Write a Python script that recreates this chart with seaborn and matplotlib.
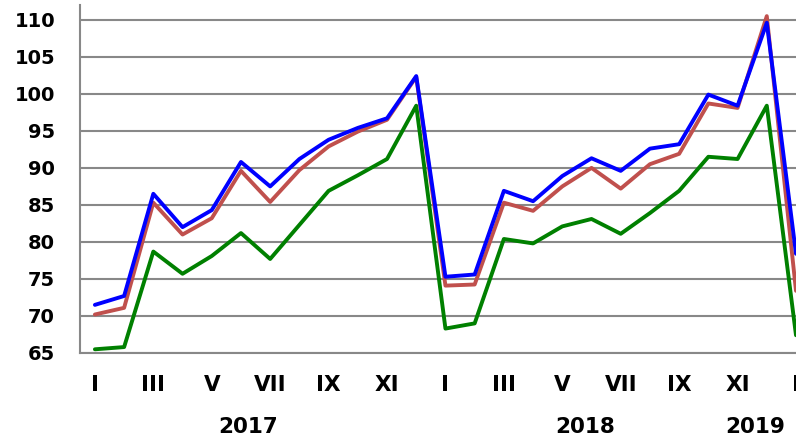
import pandas as pd
import matplotlib.pyplot as plt
import seaborn as sns

# --- DATA (monthly index, Jan 2017 .. Jan 2019) ---
months = ['I', 'II', 'III', 'IV', 'V', 'VI', 'VII', 'VIII', 'IX', 'X', 'XI', 'XII'] * 2 + ['I']
years = ['2017', '2018', '2019']
year_pos = [5.24, 16.8, 22.6]

blue_vals = [71.5, 72.7, 86.5, 82.0, 84.3, 90.8, 87.5, 91.2, 93.8, 95.4, 96.7, 102.4,
             75.3, 75.6, 86.9, 85.5, 88.9, 91.3, 89.6, 92.6, 93.2, 99.9, 98.4, 109.6,
             78.4]
red_vals = [70.2, 71.1, 85.3, 81.0, 83.2, 89.6, 85.4, 89.7, 92.9, 94.9, 96.5, 102.3,
            74.1, 74.25, 85.3, 84.2, 87.5, 90.0, 87.2, 90.5, 91.9, 98.7, 98.1, 110.5,
            73.4]
green_vals = [65.5, 65.8, 78.7, 75.7, 78.1, 81.2, 77.7, 82.3, 86.9, 89.0, 91.2, 98.4,
              68.3, 69.0, 80.4, 79.8, 82.1, 83.1, 81.1, 83.9, 86.9, 91.5, 91.2, 98.4,
              67.4]

idx = list(range(len(months)))
df = pd.DataFrame({'idx': idx, 'blue': blue_vals, 'red': red_vals, 'green': green_vals})

sns.set_style('white')
plt.rcParams['font.family'] = ['DejaVu Sans']
plt.rcParams['text.color'] = 'black'

fig = plt.figure(figsize=(7.96, 4.38), dpi=100)
ax = fig.add_axes([80 / 796, 85 / 438, 716 / 796, 348 / 438])

# draw order: green, red, blue on top
sns.lineplot(data=df, x='idx', y='green', color='#008000', linewidth=2.8, ax=ax)
sns.lineplot(data=df, x='idx', y='red', color='#C0504D', linewidth=2.8, ax=ax)
sns.lineplot(data=df, x='idx', y='blue', color='#0000FF', linewidth=2.8, ax=ax)

ax.set_xlim(-0.51, 24.0)
ax.set_ylim(65, 112)
ax.set_yticks(range(65, 111, 5))
ax.yaxis.grid(True, color='#888888', linewidth=1.5)
ax.set_axisbelow(True)

ax.set_xticks(idx[::2])
ax.set_xticklabels(months[::2], fontsize=15.5, fontweight='bold')
for lab in ax.get_yticklabels():
    lab.set_fontsize(14)
    lab.set_fontweight('bold')
ax.tick_params(axis='x', length=0, pad=16, labelcolor='black')
ax.tick_params(axis='y', length=0, pad=18, labelcolor='black')

ax.set_xlabel('')
ax.set_ylabel('')
for s in ['top', 'right']:
    ax.spines[s].set_visible(False)
ax.spines['left'].set_color('#888888')
ax.spines['left'].set_linewidth(1.5)
ax.spines['bottom'].set_color('#888888')
ax.spines['bottom'].set_linewidth(1.5)

for yr, xp in zip(years, year_pos):
    ax.text(xp, -0.2126, yr, transform=ax.get_xaxis_transform(), ha='center', va='center',
            fontsize=15.5, fontweight='bold', color='black', clip_on=False)

fig.savefig('out.png', dpi=100)
